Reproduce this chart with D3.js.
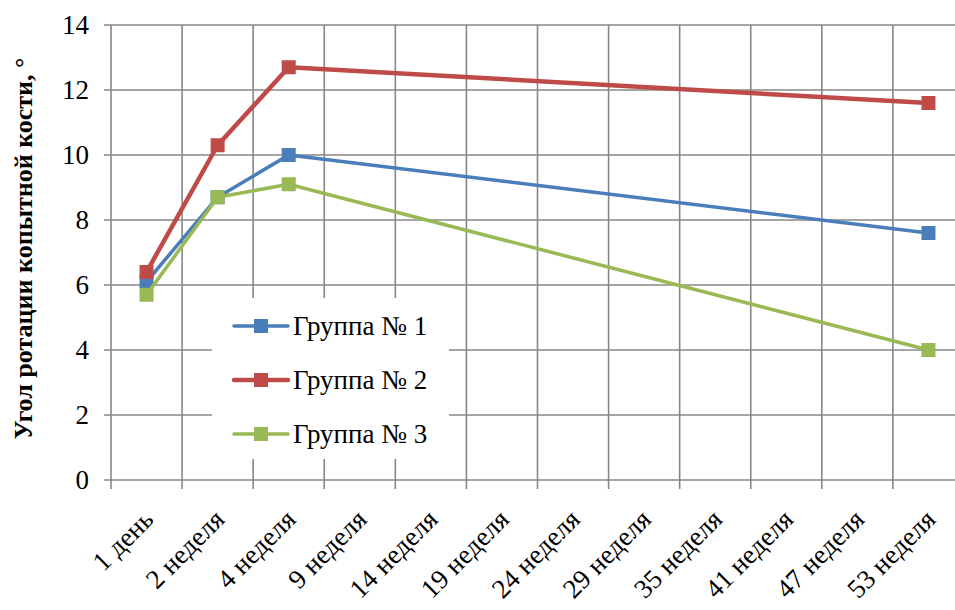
<!DOCTYPE html>
<html>
<head>
<meta charset="utf-8">
<script src="https://cdn.jsdelivr.net/npm/d3@7"></script>
</head>
<body style="margin:0">
<svg id="chart" width="955" height="610"></svg>
<script>
const categories = ["1 день", "2 неделя", "4 неделя", "9 неделя", "14 неделя", "19 неделя",
                    "24 неделя", "29 неделя", "35 неделя", "41 неделя", "47 неделя", "53 неделя"];
const group1 = [6.1, 8.7, 10.0, null, null, null, null, null, null, null, null, 7.6];
const group2 = [6.4, 10.3, 12.7, null, null, null, null, null, null, null, null, 11.6];
const group3 = [5.7, 8.7, 9.1, null, null, null, null, null, null, null, null, 4.0];
const seriesNames = ["Группа № 1", "Группа № 2", "Группа № 3"];
const yTicks = [0, 2, 4, 6, 8, 10, 12, 14];
const yTitle = "Угол ротации копытной кости, °";

const colors = ["#4a7ebb", "#be4b48", "#98b954"];
const widths = [3.5, 4.5, 3.5];
const gridColor = "#878787";
const FONT = '"Liberation Serif"';

const svg = d3.select("#chart");
const pLeft = 111, pRight = 964, pTop = 25, pBottom = 480;

const x = d3.scaleBand().domain(categories).range([pLeft, pRight]).padding(0);
const y = d3.scaleLinear().domain([0, 14]).range([pBottom, pTop]);

// horizontal gridlines
svg.append("g").selectAll("line").data(yTicks).join("line")
  .attr("x1", pLeft - 7).attr("x2", pRight)
  .attr("y1", d => y(d)).attr("y2", d => y(d))
  .attr("stroke", gridColor).attr("stroke-width", 1.6);

// vertical gridlines (band boundaries)
const bounds = categories.map(c => x(c)).concat([pRight]);
svg.append("g").selectAll("line").data(bounds).join("line")
  .attr("x1", d => d).attr("x2", d => d)
  .attr("y1", pTop).attr("y2", pBottom + 9)
  .attr("stroke", gridColor).attr("stroke-width", 1.6);

// y tick labels
svg.selectAll("text.ytick").data(yTicks).join("text")
  .attr("class", "ytick")
  .attr("x", 89).attr("y", d => y(d) + 9)
  .attr("text-anchor", "end")
  .attr("font-size", 27)
  .style("font-family", FONT)
  .text(d => d);

// x tick labels
svg.selectAll("text.xtick").data(categories).join("text")
  .attr("class", "xtick")
  .attr("transform", d => `translate(${x(d) + x.bandwidth() / 2 + 8.5},${521}) rotate(-45)`)
  .attr("text-anchor", "end")
  .attr("font-size", 27)
  .style("font-family", FONT)
  .text(d => d);

// y axis title
svg.append("text")
  .attr("transform", `translate(32,${(17 + 480) / 2}) rotate(-90)`)
  .attr("text-anchor", "middle")
  .attr("font-size", 26)
  .attr("font-weight", "bold")
  .style("font-family", FONT)
  .text(yTitle);

// series
const all = [group1, group2, group3];
const line = d3.line()
  .x(d => x(d.c) + x.bandwidth() / 2)
  .y(d => y(d.v));

all.forEach((vals, i) => {
  const pts = categories.map((c, k) => ({ c, v: vals[k] })).filter(d => d.v != null);
  svg.append("path").datum(pts)
    .attr("d", line)
    .attr("fill", "none")
    .attr("stroke", colors[i])
    .attr("stroke-width", widths[i])
    .attr("stroke-linejoin", "round");
  svg.append("g").selectAll("rect").data(pts).join("rect")
    .attr("x", d => x(d.c) + x.bandwidth() / 2 - 7)
    .attr("y", d => y(d.v) - 7)
    .attr("width", 14).attr("height", 14)
    .attr("fill", colors[i]);
});

// legend
svg.append("rect").attr("x", 212).attr("y", 298).attr("width", 237).attr("height", 161).attr("fill", "#fff");
const legendY = [326, 380, 434];
seriesNames.forEach((name, i) => {
  svg.append("line")
    .attr("x1", 234).attr("x2", 288)
    .attr("y1", legendY[i]).attr("y2", legendY[i])
    .attr("stroke", colors[i]).attr("stroke-width", widths[i])
    .attr("stroke-linecap", "round");
  svg.append("rect")
    .attr("x", 261 - 7).attr("y", legendY[i] - 7)
    .attr("width", 14).attr("height", 14)
    .attr("fill", colors[i]);
});
svg.selectAll("text.legend").data(seriesNames).join("text")
  .attr("class", "legend")
  .attr("x", 293).attr("y", (d, i) => legendY[i] + 9)
  .attr("font-size", 27)
  .style("font-family", FONT)
  .text(d => d);
</script>
</body>
</html>
